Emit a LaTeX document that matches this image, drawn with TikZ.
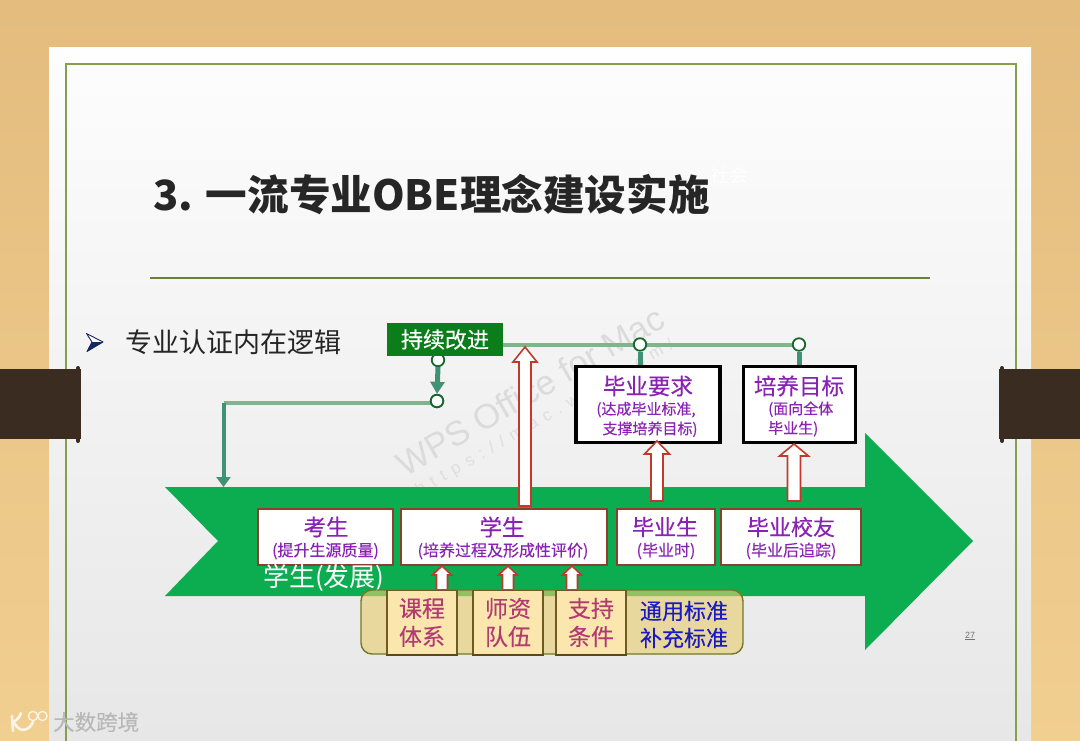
\documentclass[tikz,border=0pt]{standalone}
\usepackage{fontspec}
\setmainfont{Noto Sans CJK SC}
\newfontfamily\latinwm{Liberation Sans}
\usetikzlibrary{arrows.meta,calc}
\definecolor{arrowgreen}{HTML}{0BAD50}
\definecolor{keepgreen}{HTML}{0B7E1B}
\definecolor{linegreen}{HTML}{7DB58C}
\definecolor{tealline}{HTML}{3F9274}
\definecolor{ringgreen}{HTML}{17682F}
\definecolor{boxbrown}{HTML}{8C3F2E}
\definecolor{redline}{HTML}{C0392B}
\definecolor{purpletxt}{HTML}{8A22B4}
\definecolor{rosetxt}{HTML}{B23C72}
\definecolor{bluetxt}{HTML}{1A1AC4}
\definecolor{tanfill}{HTML}{E8CD70}
\definecolor{tanedge}{HTML}{6F7A25}
\definecolor{cream}{HTML}{FBE6AE}
\definecolor{creamedge}{HTML}{6E5A22}
\definecolor{frameline}{HTML}{84A04A}
\definecolor{strapc}{HTML}{3A2C20}
\definecolor{woodtop}{HTML}{E3BC7E}
\definecolor{woodbot}{HTML}{F1CF90}
\definecolor{slidetop}{HTML}{FDFDFD}
\definecolor{slidemid}{HTML}{F0F0F0}
\definecolor{slidebot}{HTML}{E7E7E7}
\definecolor{titlec}{HTML}{262626}
\definecolor{navy}{HTML}{14285F}
\newcommand{\fs}[1]{\fontsize{#1}{#1}\selectfont}
\newcommand{\fb}{\addfontfeature{FakeBold=0.25}}
\newcommand{\blockup}[6]{%
  \draw[blockarrow] (#1,#2) -- (#1+#6,#3) -- (#1+#5,#3) -- (#1+#5,#4) -- (#1-#5,#4) -- (#1-#5,#3) -- (#1-#6,#3) -- cycle;}
\tikzset{
  px/.style={x=1pt,y=-1pt},
  blockarrow/.style={draw=redline,line width=1.6pt,fill=white,line join=miter},
  stagebox/.style={draw=boxbrown,line width=1.4pt,fill=white,minimum height=56pt,inner sep=0pt},
  outcomebox/.style={draw=black,line width=3.2pt,fill=white,minimum height=76pt,inner sep=0pt},
  inputbox/.style={draw=creamedge,line width=1.2pt,fill=cream,minimum width=70pt,minimum height=64pt,inner sep=0pt,align=center,text=rosetxt,font=\fs{23}\fb},
  ring/.style={circle,draw=ringgreen,line width=1.8pt,fill=white,minimum size=12.5pt,inner sep=0pt},
  greenline/.style={draw=linegreen,line width=4pt},
  tealstub/.style={draw=tealline,line width=5pt},
  headtxt/.style={text=purpletxt,font=\fs{22.5}\fb,inner sep=0pt},
  subtxt/.style={text=purpletxt,font=\fs{16}\fb,inner sep=0pt,align=center},
}
\begin{document}
\begin{tikzpicture}[px]
\useasboundingbox (0,0) rectangle (1080,741);
% wood
\shade[top color=woodtop,bottom color=woodbot] (0,0) rectangle (1080,741);
% slide
\shade[top color=slidetop,middle color=slidemid,bottom color=slidebot] (49,48) rectangle (1031,741);
\fill[white,opacity=.85] (49,48) rectangle (1031,64);
\draw[frameline,line width=1.6pt] (66,741) -- (66,64) -- (1016,64) -- (1016,741);
% straps
\fill[strapc] (0,369) rectangle (81,439);
\fill[strapc] (999,369) rectangle (1080,439);
\draw[strapc,line width=4pt,line cap=round] (78,368) -- (78,441);
\draw[strapc,line width=4pt,line cap=round] (1002,368) -- (1002,441);
% title
\node[inner sep=0pt,anchor=west,text=titlec,font=\fs{41.6}\bfseries] (title) at (153,195) {3. 一流专业OBE理念建设实施};
\node[inner sep=0pt,text=white,font=\fs{19}] (faint) at (729,175) {社会};
\draw[frameline!80!black,line width=1.2pt] (150,278) -- (930,278);
% bullet (drawn mark)
\draw[navy,line width=.9pt,fill=white,line join=round] (86.5,333.5) -- (103,342) -- (87,351.5) -- (92,342) -- cycle;
\fill[navy] (103,342) -- (87,351.5) -- (92,342) -- cycle;
\node[inner sep=0pt,anchor=west,text=black!85,font=\fs{27}] (logic) at (125,342) {专业认证内在逻辑};
% watermark
\node[rotate=30,inner sep=0pt,text=black!14,font=\latinwm\fs{34.5}] (wm1) at (530,391) {WPS Office for Mac};
\node[rotate=30,inner sep=0pt,text=black!13,font=\latinwm\fs{17}\addfontfeature{LetterSpace=42}] (wm2) at (545,418) {https://mac.wps.com/};
% main arrow
\fill[arrowgreen] (165,487) -- (865,487) -- (865,433) -- (973,541) -- (865,650) -- (865,596) -- (165,596) -- (218,541) -- cycle;
% outcomes and rings
\node[ring] (r3) at (438,360) {};
\node[fill=keepgreen,text=white,font=\fs{22}\fb,minimum width=116pt,minimum height=33pt,inner sep=0pt] (improve) at (445,339.5) {持续改进};
\node[outcomebox,minimum width=144pt] (req) at (648,404.5) {};
\node[outcomebox,minimum width=112pt] (goal) at (799.5,404.5) {};
\coordinate (corner) at (223.5,403);
\coordinate (arrowtop) at (223.5,487);
\draw[greenline] (improve.east |- 0,344.5) -- (799,344.5) coordinate (mainend);
\node[ring] (r1) at (640,344.5) {};
\node[ring] (r2) at (799,344.5) {};
\draw[tealstub] (r1.south) -- (r1.south |- req.north);
\draw[tealstub] (r2.south) -- (r2.south |- goal.north);
\draw[greenline,line width=4.5pt] (corner) -- (corner -| 437,0);
\node[ring] (r4) at (437,401) {};
\draw[draw=tealline,line width=5pt,-{Triangle[length=12pt,width=14pt]}] (r3.south) -- (r4.north);
\node[ring,fill=white,draw=ringgreen] at (r4) {};
\draw[draw=tealline,line width=4pt,-{Triangle[length=10pt,width=14pt]}] (corner) -- (arrowtop);
% text in outcome boxes
\node[headtxt] (reqh) at (648,386) {毕业要求};
\node[subtxt,font=\fs{15}\fb] (reqs) at (646,419.5) {(达成毕业标准,\\[3pt]\hspace*{8pt}支撑培养目标)};
\node[headtxt] (goalh) at (799,386) {培养目标};
\node[subtxt,font=\fs{15}\fb,align=left,anchor=west] (goals) at (768,419) {(面向全体\\[3pt]毕业生)};
% stage boxes
\node[stagebox,minimum width=135pt] (s1) at (325.5,537) {};
\node[stagebox,minimum width=206pt] (s2) at (504,537) {};
\node[stagebox,minimum width=98pt] (s3) at (666,537) {};
\node[stagebox,minimum width=140pt] (s4) at (791,537) {};
\node[headtxt] (s1h) at (326,527) {考生};
\node[subtxt] (s1s) at (325.5,551) {(提升生源质量)};
\node[headtxt] (s2h) at (502,527) {学生};
\node[subtxt] (s2s) at (503,551) {(培养过程及形成性评价)};
\node[headtxt,font=\fs{22}\fb] (s3h) at (665,527) {毕业生};
\node[subtxt] (s3s) at (666,551) {(毕业时)};
\node[headtxt,font=\fs{22}\fb] (s4h) at (791,527) {毕业校友};
\node[subtxt] (s4s) at (791,551) {(毕业后追踪)};
\node[inner sep=0pt,text=white,font=\fs{26},anchor=west] (flow) at (263,578) {学生(发展)};
% block arrows
\blockup{525}{347}{362}{506}{6}{12}
\blockup{657}{441}{454}{501}{6}{12.5}
\blockup{794}{444}{456}{501}{6.5}{14.5}
\blockup{442}{566}{575}{590}{5.5}{9.5}
\blockup{508}{566}{575}{590}{5.5}{9.5}
\blockup{572}{566}{575}{590}{5.5}{9.5}
% input band
\draw[draw=tanedge,line width=1.4pt,fill=tanfill,fill opacity=.62,rounded corners=11pt] (361,590) rectangle (743,654);
\node[inputbox] (i1) at (422,622.5) {课程\\[5pt]体系};
\node[inputbox] (i2) at (508,622.5) {师资\\[5pt]队伍};
\node[inputbox] (i3) at (591,622.5) {支持\\[5pt]条件};
\draw[creamedge!80!black,line width=2pt] (i1.south west) -- (i1.south east);
\draw[creamedge!80!black,line width=2pt] (i2.south west) -- (i2.south east);
\draw[creamedge!80!black,line width=2pt] (i3.south west) -- (i3.south east);
\node[inner sep=0pt,text=bluetxt,font=\fs{22}\fb,align=center] (std) at (684,624.5) {通用标准\\[5pt]补充标准};
\node[inner sep=0pt,text=black!55,font=\latinwm\fs{9}] (pg) at (970,636) {\underline{27}};
% source mark
\node[inner sep=0pt,text=black!28,font=\fs{21.5}\fb,anchor=west] (mark) at (53,722) {大数跨境};
\draw[white,opacity=.8,line width=2.6pt,line cap=round] (12,716) -- (13,731) (14,722) .. controls (18,719) and (20,716) .. (21,713) (15,724) .. controls (20,733) and (29,731) .. (33,722);
\draw[white,opacity=.8,line width=1.3pt] (33,716) circle (4.6pt) (42.5,716) circle (4.6pt);
\end{tikzpicture}
\end{document}
